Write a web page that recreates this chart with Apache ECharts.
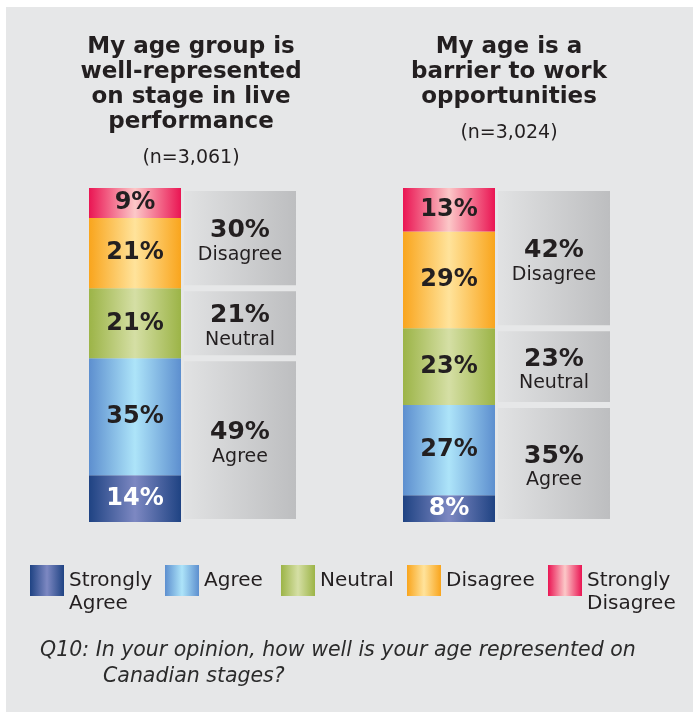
<!DOCTYPE html>
<html>
<head>
<meta charset="utf-8">
<script src="https://cdn.jsdelivr.net/npm/echarts@6/dist/echarts.min.js"></script>
<style>
  html, body { margin: 0; padding: 0; background: #fff; }
  #main { width: 693px; height: 712px; }
</style>
</head>
<body>
<div id="main"></div>
<script>
// chart titles and sample sizes
var categories = ['My age group is\nwell-represented\non stage in live\nperformance', 'My age is a\nbarrier to work\nopportunities'];
var sampleSizes = ['(n=3,061)', '(n=3,024)'];

// detailed answers, bottom to top
var levels = ['Strongly Agree', 'Agree', 'Neutral', 'Disagree', 'Strongly Disagree'];
var stronglyAgree = [14, 8];
var agree = [35, 27];
var neutral = [21, 23];
var disagree = [21, 29];
var stronglyDisagree = [9, 13];

// grouped totals, bottom to top
var totals = ['Agree', 'Neutral', 'Disagree'];
var totalAgree = [49, 35];
var totalNeutral = [21, 23];
var totalDisagree = [30, 42];

var footnote = ['Q10: In your opinion, how well is your age represented on', 'Canadian stages?'];

var FONT = 'DejaVu Sans';
var INK = '#231f20';
var BG = '#e6e7e8';

var levelData = [stronglyAgree, agree, neutral, disagree, stronglyDisagree];
var totalData = [totalAgree, totalNeutral, totalDisagree];
var levelColors = [
  ['#1f4383', '#7d88c2'],
  ['#5d8fcf', '#ade4f9'],
  ['#9cb447', '#d5dfa5'],
  ['#f9a51d', '#ffe39b'],
  ['#ea1553', '#fcc8c8']
];
var legendLeft = [30, 165, 281, 407, 548];

function grad(edge, mid) {
  return new echarts.graphic.LinearGradient(0, 0, 1, 0, [
    { offset: 0, color: edge },
    { offset: 0.5, color: mid },
    { offset: 1, color: edge }
  ]);
}

var myChart = echarts.init(document.getElementById('main'));

var series = [];
levels.forEach(function (name, i) {
  series.push({
    name: name,
    type: 'bar',
    stack: 'level',
    barWidth: 92,
    barGap: '0%',
    z: 3,
    data: levelData[i],
    itemStyle: { color: grad(levelColors[i][0], levelColors[i][1]) },
    label: {
      show: true,
      position: 'inside',
      formatter: '{c}%',
      color: i === 0 ? '#fff' : INK,
      fontFamily: FONT,
      fontWeight: 'bold',
      fontSize: 24
    },
    emphasis: { disabled: true }
  });
});
totals.forEach(function (name, i) {
  series.push({
    name: name + ' total',
    type: 'bar',
    stack: 'total',
    barWidth: 118,
    barGap: '0%',
    z: 2,
    data: totalData[i],
    itemStyle: {
      color: new echarts.graphic.LinearGradient(0, 0, 1, 0, [
        { offset: 0, color: '#e2e3e4' },
        { offset: 1, color: '#bcbdbf' }
      ]),
      borderColor: BG,
      borderWidth: 3
    },
    label: {
      show: true,
      position: 'inside',
      offset: [0, 4],
      formatter: function (p) {
        return '{v|' + p.value + '%}\n{n|' + name + '}';
      },
      rich: {
        v: { fontFamily: FONT, fontWeight: 'bold', fontSize: 25, lineHeight: 25, color: INK },
        n: { fontFamily: FONT, fontSize: 19, lineHeight: 23, color: INK }
      }
    },
    emphasis: { disabled: true }
  });
});

// two-line legend names get a taller icon box so the text starts at the swatch top
var legends = levels.map(function (name, i) {
  var twoLines = name.indexOf('Strongly') === 0;
  return {
    data: [name],
    left: legendLeft[i],
    top: 565,
    padding: 0,
    icon: twoLines ? 'path://M0,0h34v31H0Z M0,54h1' : 'rect',
    itemWidth: 34,
    itemHeight: twoLines ? 54 : 31,
    selectedMode: false,
    formatter: function (n) { return n.replace(' ', '\n'); },
    textStyle: {
      fontFamily: FONT,
      fontSize: 20,
      lineHeight: 23,
      color: INK
    }
  };
});

option = {
  animation: false,
  title: [{
    text: categories[0],
    subtext: sampleSizes[0],
    left: 191,
    top: 35,
    textAlign: 'center',
    padding: 0,
    itemGap: 12,
    textStyle: { fontFamily: FONT, fontSize: 23, fontWeight: 'bold', lineHeight: 25, color: INK },
    subtextStyle: { fontFamily: FONT, fontSize: 19, lineHeight: 22, color: INK }
  }, {
    text: categories[1],
    subtext: sampleSizes[1],
    left: 509,
    top: 35,
    textAlign: 'center',
    padding: 0,
    itemGap: 12,
    textStyle: { fontFamily: FONT, fontSize: 23, fontWeight: 'bold', lineHeight: 25, color: INK },
    subtextStyle: { fontFamily: FONT, fontSize: 19, lineHeight: 22, color: INK }
  }],
  legend: legends,
  grid: {
    left: 37,
    right: 28,
    top: 188,
    bottom: 190
  },
  xAxis: {
    type: 'category',
    data: categories,
    show: false
  },
  yAxis: {
    type: 'value',
    min: 0,
    max: 100,
    show: false
  },
  graphic: [{
    type: 'rect',
    left: 6,
    top: 7,
    z: -10,
    silent: true,
    shape: { width: 687, height: 705 },
    style: { fill: BG }
  }, {
    type: 'text',
    left: 40,
    top: 641,
    style: { text: footnote[0], font: 'italic 20.5px "DejaVu Sans"', fill: '#2b2b2b' }
  }, {
    type: 'text',
    left: 103,
    top: 667,
    style: { text: footnote[1], font: 'italic 20.5px "DejaVu Sans"', fill: '#2b2b2b' }
  }],
  series: series
};

myChart.setOption(option);
</script>
</body>
</html>
